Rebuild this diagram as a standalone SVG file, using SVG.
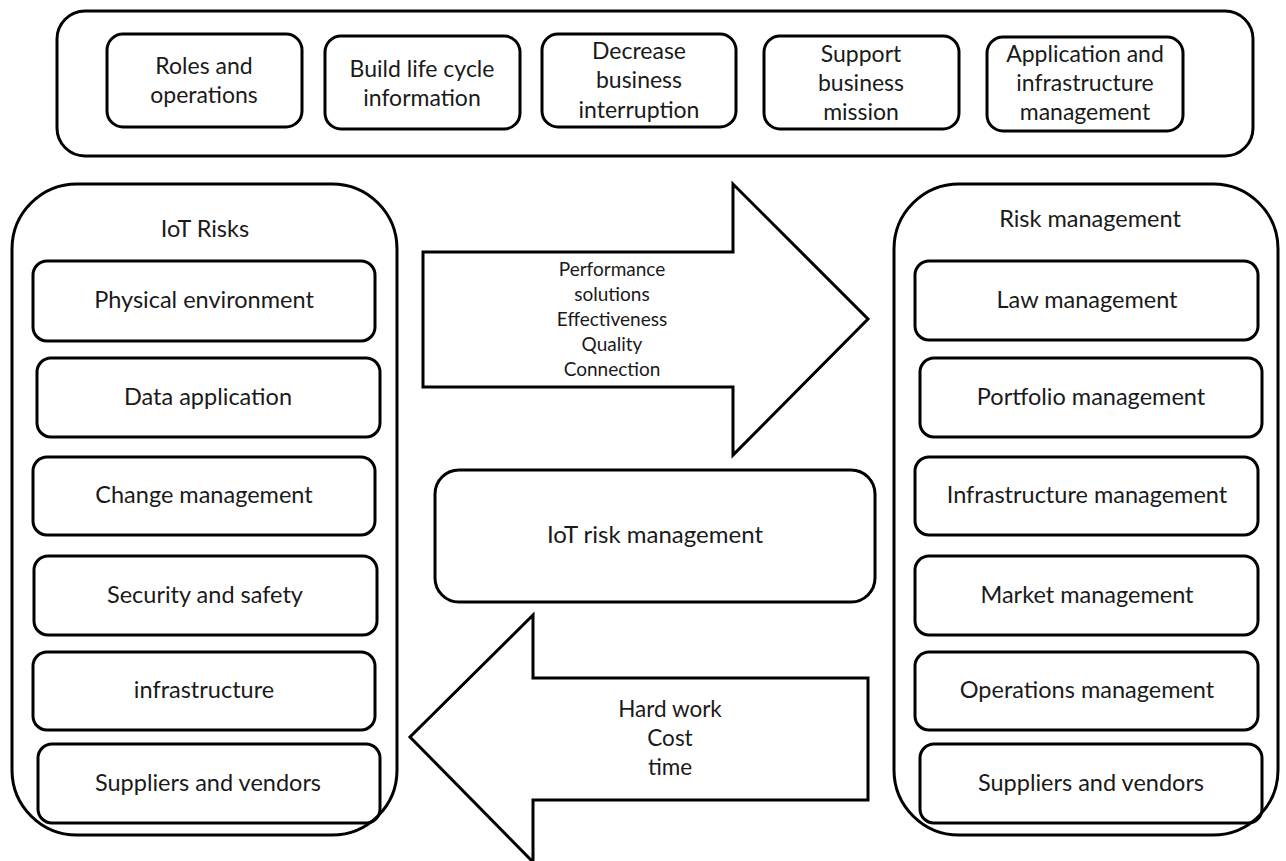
<svg xmlns="http://www.w3.org/2000/svg" width="1286" height="861" viewBox="0 0 1286 861">
<style>
.box{fill:none;stroke:#000;stroke-width:3}
.big{fill:#fff;stroke:#000;stroke-width:3}
.arrow{fill:#fff;stroke:#000;stroke-width:3;stroke-linejoin:miter}
text{font-family:Lato,"Liberation Sans",sans-serif;fill:#1a1a1a;text-anchor:middle}
.t{font-size:23.5px}
.h{font-size:22.5px}
.m{font-size:24px}
.s{font-size:19px}
.top{font-size:23px}
</style>
<rect width="1286" height="861" fill="#fff"/>
<g id="top-group">
<rect class="big" x="57" y="11" width="1196" height="145" rx="28"/>
</g>
<g id="iot-risks">
<rect class="big" x="12" y="184" width="385" height="651" rx="65"/>
<text class="t" x="205" y="237">IoT Risks</text>
</g>
<g id="risk-mgmt">
<rect class="big" x="894" y="184" width="384" height="651" rx="65"/>
<text class="t" x="1090" y="227">Risk management</text>
</g>
<g id="connectors">
<polygon id="arrow-right" class="arrow" points="423,252 733,252 733,184 868,319 733,455 733,387 423,387"/>
<text class="s" x="612" y="276">Performance</text>
<text class="s" x="612" y="301">solutions</text>
<text class="s" x="612" y="326">Effectiveness</text>
<text class="s" x="612" y="351">Quality</text>
<text class="s" x="612" y="376">Connection</text>
<polygon id="arrow-left" class="arrow" points="868,678 533,678 533,615 410,737 533,862 533,800 868,800"/>
<text class="h" x="670" y="717">Hard work</text>
<text class="h" x="670" y="746">Cost</text>
<text class="h" x="670" y="775">time</text>
</g>
<g id="n-roles"><rect class="box" x="107" y="34" width="195" height="93" rx="16"/><text class="top" x="204" y="74">Roles and</text><text class="top" x="204" y="103">operations</text></g>
<g id="n-build"><rect class="box" x="325" y="36" width="195" height="93" rx="16"/><text class="top" x="422" y="77">Build life cycle</text><text class="top" x="422" y="106">information</text></g>
<g id="n-decrease"><rect class="box" x="542" y="34" width="194" height="93" rx="16"/><text class="top" x="639" y="59">Decrease</text><text class="top" x="639" y="88">business</text><text class="top" x="639" y="118">interruption</text></g>
<g id="n-support"><rect class="box" x="764" y="36" width="195" height="93" rx="16"/><text class="top" x="861" y="62">Support</text><text class="top" x="861" y="91">business</text><text class="top" x="861" y="120">mission</text></g>
<g id="n-app"><rect class="box" x="987" y="37" width="196" height="94" rx="16"/><text class="top" x="1085" y="62">Application and</text><text class="top" x="1085" y="91">infrastructure</text><text class="top" x="1085" y="120">management</text></g>

<g id="l-physical"><rect class="box" x="33" y="261" width="342" height="80" rx="14"/><text class="t" x="204" y="308">Physical environment</text></g>
<g id="l-data"><rect class="box" x="37" y="358" width="343" height="79" rx="14"/><text class="t" x="208" y="405">Data application</text></g>
<g id="l-change"><rect class="box" x="33" y="457" width="342" height="78" rx="14"/><text class="t" x="204" y="503">Change management</text></g>
<g id="l-security"><rect class="box" x="34" y="556" width="343" height="79" rx="14"/><text class="t" x="205" y="603">Security and safety</text></g>
<g id="l-infra"><rect class="box" x="33" y="652" width="342" height="78" rx="14"/><text class="t" x="204" y="698">infrastructure</text></g>
<g id="l-suppliers"><rect class="box" x="38" y="744" width="342" height="79" rx="14"/><text class="t" x="208" y="791">Suppliers and vendors</text></g>

<g id="iot-risk-mgmt"><rect class="box" x="435" y="470" width="440" height="132" rx="24"/><text class="m" x="655" y="543">IoT risk management</text></g>

<g id="r-law"><rect class="box" x="915" y="261" width="343" height="79" rx="14"/><text class="t" x="1087" y="308">Law management</text></g>
<g id="r-portfolio"><rect class="box" x="920" y="358" width="342" height="79" rx="14"/><text class="t" x="1091" y="405">Portfolio management</text></g>
<g id="r-infra"><rect class="box" x="915" y="457" width="343" height="78" rx="14"/><text class="t" x="1087" y="503">Infrastructure management</text></g>
<g id="r-market"><rect class="box" x="915" y="556" width="343" height="79" rx="14"/><text class="t" x="1087" y="603">Market management</text></g>
<g id="r-operations"><rect class="box" x="915" y="652" width="343" height="78" rx="14"/><text class="t" x="1087" y="698">Operations management</text></g>
<g id="r-suppliers"><rect class="box" x="920" y="744" width="342" height="79" rx="14"/><text class="t" x="1091" y="791">Suppliers and vendors</text></g>
</svg>
